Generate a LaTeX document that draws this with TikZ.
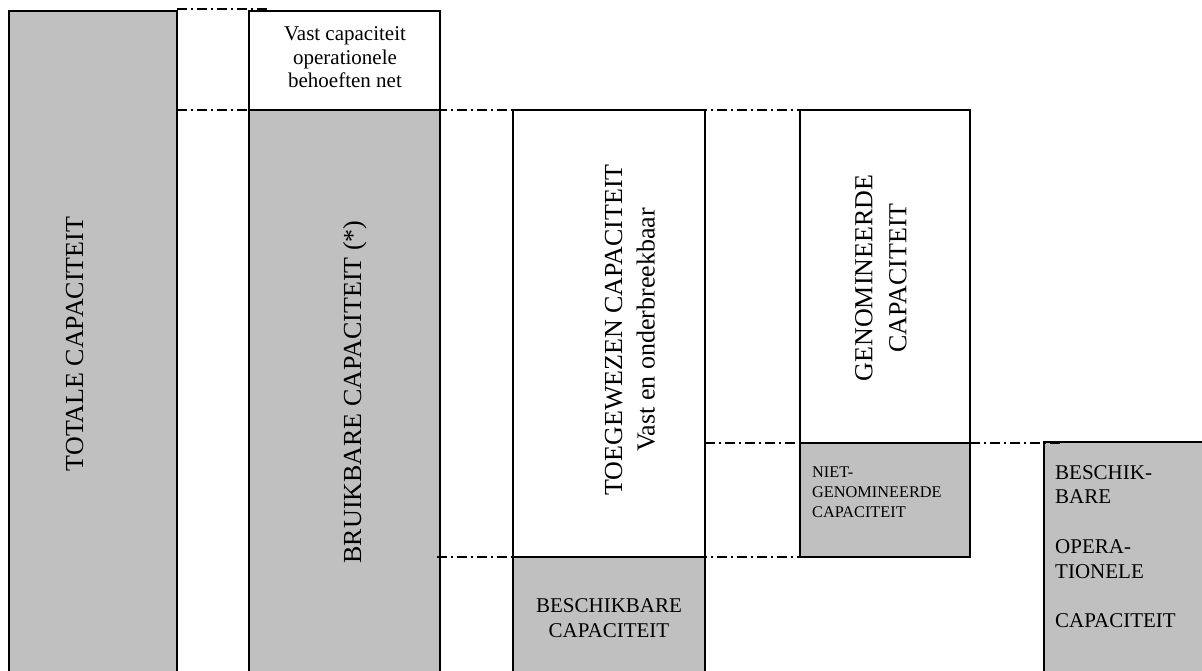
\documentclass[tikz,border=0pt]{standalone}
\usepackage{fontspec}
\setmainfont{Liberation Serif}
\definecolor{boxgray}{RGB}{192,192,192}
\begin{document}
\begin{tikzpicture}[x=1pt,y=-1pt,
  panel/.style={draw=black,line width=1.8pt,fill=boxgray},
  blank/.style={draw=black,line width=1.8pt,fill=white},
  guide/.style={line width=1.4pt,dash pattern=on 10pt off 4pt on 2pt off 4pt},
  big/.style={font=\fontsize{26}{32.5}\selectfont,inner sep=0pt,rotate=90,align=center},
  mid/.style={font=\fontsize{21}{25}\selectfont,inner sep=0pt},
  small/.style={font=\fontsize{16.3}{20}\selectfont,inner sep=0pt,align=left}]
\useasboundingbox (0,0) rectangle (1202,671);
\clip (0,0) rectangle (1202,671);
% boxes
\draw[panel] (9,11) rectangle (177,690);
\draw[blank] (249,11) rectangle (440,110);
\draw[panel] (249,110) rectangle (440,690);
\draw[blank] (513,110) rectangle (705,557);
\draw[panel] (513,557) rectangle (705,690);
\draw[blank] (800,110) rectangle (970,443);
\draw[panel] (800,443) rectangle (970,557);
\draw[panel] (1044,442) rectangle (1215,690);
% guide coordinates
\coordinate (t0) at (177,9);   \coordinate (t1) at (268,9);
\coordinate (m0) at (177,110); \coordinate (m1) at (803,110);
\coordinate (b0) at (437,557); \coordinate (b1) at (803,557);
\coordinate (n0) at (705,443); \coordinate (n1) at (800,443);
\coordinate (r0) at (970,443); \coordinate (r1) at (1060,443);
\draw[guide] (t0) -- (t1);
\draw[guide] (m0) -- (m1);
\draw[guide] (b0) -- (b1);
\draw[guide] (n0) -- (n1);
\draw[guide] (r0) -- (r1);
% texts
\node[big,anchor=base] (tot) at (83,344) {TOTALE CAPACITEIT};
\node[big,anchor=base] (bru) at (361,392) {BRUIKBARE CAPACITEIT (*)};
\node[big] (toe) at (630,330) {TOEGEWEZEN CAPACITEIT\\Vast en onderbreekbaar};
\node[big,font=\fontsize{26}{34}\selectfont] (gen) at (881,278) {GENOMINEERDE\\CAPACITEIT};
\node[mid,align=center,font=\fontsize{21}{23.5}\selectfont] (vast) at (345,57.5) {Vast capaciteit\\operationele\\behoeften net};
\node[mid,align=center] (bes) at (609,618.5) {BESCHIKBARE\\CAPACITEIT};
\node[small,anchor=north west] (niet) at (812,466.2) {NIET-\\GENOMINEERDE\\CAPACITEIT};
\node[mid,align=left,anchor=north west,font=\fontsize{21}{24.75}\selectfont] (bop) at (1055,465) {BESCHIK-\\BARE\\[24.75pt]OPERA-\\TIONELE\\[24.75pt]CAPACITEIT};
\end{tikzpicture}
\end{document}
